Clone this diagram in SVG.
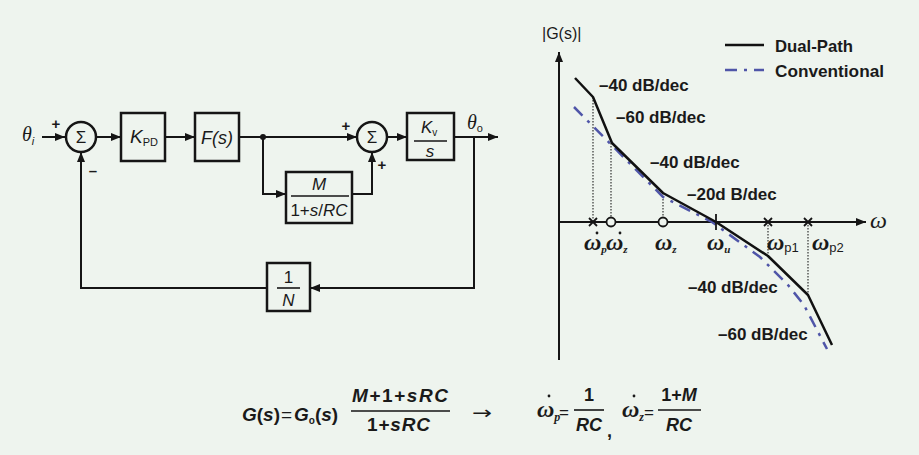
<svg xmlns="http://www.w3.org/2000/svg" width="919" height="455" viewBox="0 0 919 455">
<defs>
<style>
.bg{fill:#eef4ee}
.ln{stroke:#151515;stroke-width:2;fill:none}
.box{fill:none;stroke:#151515;stroke-width:2.5}
.bar{stroke:#151515;stroke-width:1.6}
.t{font-family:"Liberation Sans",Arial,sans-serif;fill:#1a1a1a}
.s{font-family:"Liberation Serif","Times New Roman",serif;fill:#1a1a1a}
.it{font-style:italic}
.b{font-weight:bold}
.vd{stroke:#333;stroke-width:1.2;stroke-dasharray:1.5 1.5;fill:none}
.dual{stroke:#111;stroke-width:2.5;fill:none;stroke-linejoin:round}
.conv{stroke:#4f55a8;stroke-width:2.5;fill:none;stroke-dasharray:12 7 3 7}
.mk{stroke:#151515;stroke-width:1.8;fill:none}
.zc{stroke:#151515;stroke-width:1.8;fill:#eef4ee}
.pd{fill:#1a1a1a}
</style>
<marker id="ah" viewBox="0 0 10 8" refX="10" refY="4" markerWidth="10" markerHeight="8" markerUnits="userSpaceOnUse" orient="auto"><path d="M0,0 L10,4 L0,8 z" fill="#151515"/></marker>
</defs>
<rect class="bg" x="0" y="0" width="919" height="455"/>

<!-- Block diagram nodes -->
<g id="input-label"><text class="s it" x="22" y="141" font-size="20">θ<tspan class="t" font-size="11" dy="4">i</tspan></text></g>
<g id="sum1">
<circle class="box" cx="81" cy="137" r="15"/>
<text class="t" x="81" y="143" font-size="17" text-anchor="middle">Σ</text>
<text class="t b" x="56" y="129" font-size="15" text-anchor="middle">+</text>
<text class="t b" x="93" y="176" font-size="15" text-anchor="middle">–</text>
</g>
<g id="kpd">
<rect class="box" x="121" y="113" width="44" height="48"/>
<text class="t it" x="130" y="143" font-size="19">K<tspan font-style="normal" font-size="11" dy="3">PD</tspan></text>
</g>
<g id="fs">
<rect class="box" x="195" y="113" width="44" height="48"/>
<text class="t it" x="217" y="144" font-size="18" text-anchor="middle">F(s)</text>
</g>
<g id="junction"><circle cx="263" cy="137" r="3" fill="#151515"/></g>
<g id="mblock">
<rect class="box" x="286" y="172" width="66" height="51"/>
<text class="t it" x="319" y="190" font-size="17" text-anchor="middle">M</text>
<line class="bar" x1="291" y1="196" x2="349" y2="196"/>
<text class="t" x="319" y="216" font-size="17" text-anchor="middle">1+<tspan font-style="italic">s</tspan>/<tspan font-style="italic">RC</tspan></text>
</g>
<g id="sum2">
<circle class="box" cx="372" cy="137" r="15"/>
<text class="t" x="372" y="143" font-size="17" text-anchor="middle">Σ</text>
<text class="t b" x="346" y="131" font-size="15" text-anchor="middle">+</text>
<text class="t b" x="382" y="170" font-size="15" text-anchor="middle">+</text>
</g>
<g id="kv">
<rect class="box" x="407" y="113" width="47" height="47"/>
<text class="t it" x="421" y="133" font-size="17">K<tspan font-style="normal" font-size="10" dy="3">v</tspan></text>
<line class="bar" x1="414" y1="141" x2="447" y2="141"/>
<text class="t it" x="430" y="157" font-size="17" text-anchor="middle">s</text>
</g>
<g id="output-label"><text class="s it" x="467" y="129" font-size="20">θ<tspan class="t" font-style="normal" font-size="11" dy="3">o</tspan></text></g>
<g id="ninv">
<rect class="box" x="267" y="263" width="43" height="48"/>
<text class="t" x="288.5" y="283" font-size="17" text-anchor="middle">1</text>
<line class="bar" x1="277" y1="288" x2="300" y2="288"/>
<text class="t it" x="288.5" y="306" font-size="17" text-anchor="middle">N</text>
</g>

<!-- Connectors -->
<g id="connectors">
<line class="ln" x1="42" y1="137" x2="65" y2="137" marker-end="url(#ah)"/>
<line class="ln" x1="96" y1="137" x2="121" y2="137" marker-end="url(#ah)"/>
<line class="ln" x1="165" y1="137" x2="195" y2="137" marker-end="url(#ah)"/>
<line class="ln" x1="239" y1="137" x2="357" y2="137" marker-end="url(#ah)"/>
<polyline class="ln" points="263,137 263,194 286,194" marker-end="url(#ah)"/>
<polyline class="ln" points="352,194 372,194 372,152" marker-end="url(#ah)"/>
<line class="ln" x1="387" y1="137" x2="407" y2="137" marker-end="url(#ah)"/>
<line class="ln" x1="454" y1="137" x2="498" y2="137" marker-end="url(#ah)"/>
<polyline class="ln" points="474,137 474,288 310,288" marker-end="url(#ah)"/>
<polyline class="ln" points="267,288 81,288 81,152" marker-end="url(#ah)"/>
</g>

<!-- Bode plot -->
<g id="bode-axes">
<line class="ln" x1="559" y1="360" x2="559" y2="52" marker-end="url(#ah)"/>
<line class="ln" x1="559" y1="222" x2="866" y2="222" marker-end="url(#ah)"/>
<text class="t" x="542" y="39" font-size="16">|G(s)|</text>
<text class="s it" x="870" y="228" font-size="24">ω</text>
</g>
<g id="legend">
<line class="dual" x1="725" y1="45" x2="764" y2="45"/>
<text class="t b" x="775" y="52" font-size="17" textLength="78" lengthAdjust="spacingAndGlyphs">Dual-Path</text>
<line class="conv" x1="725" y1="70" x2="764" y2="70"/>
<text class="t b" x="775" y="77" font-size="17" textLength="109" lengthAdjust="spacingAndGlyphs">Conventional</text>
</g>
<g id="guides">
<line class="vd" x1="593" y1="97" x2="593" y2="222"/>
<line class="vd" x1="611" y1="143" x2="611" y2="222"/>
<line class="vd" x1="663" y1="193" x2="663" y2="222"/>
<line class="vd" x1="768" y1="222" x2="768" y2="256"/>
<line class="vd" x1="808" y1="222" x2="808" y2="295"/>
</g>
<g id="curve-conventional">
<polyline class="conv" points="574,107 663,197 712,222 760,257 788,285 804,305 817,330 827,349"/>
</g>
<g id="curve-dual">
<polyline class="dual" points="575,78 593,97 612,143 663,193 716,222 768,256 808,295 832,345"/>
</g>
<g id="axis-marks">
<path class="mk" d="M589,218 L597,226 M597,218 L589,226"/>
<circle class="zc" cx="611" cy="222" r="4.5"/>
<circle class="zc" cx="663" cy="222" r="4.5"/>
<line class="mk" x1="716" y1="214" x2="716" y2="230"/>
<path class="mk" d="M764,218 L772,226 M772,218 L764,226"/>
<path class="mk" d="M804,218 L812,226 M812,218 L804,226"/>
</g>
<g id="axis-labels">
<text class="s it b" x="584" y="250" font-size="24">ω<tspan font-size="11" dy="3">p</tspan></text>
<circle class="pd" cx="597" cy="233" r="1.4"/>
<text class="s it b" x="606" y="250" font-size="24">ω<tspan font-size="11" dy="3">z</tspan></text>
<circle class="pd" cx="620" cy="233" r="1.4"/>
<text class="s it b" x="655" y="250" font-size="24">ω<tspan font-size="11" dy="3">z</tspan></text>
<text class="s it b" x="707" y="250" font-size="24">ω<tspan font-size="11" dy="3">u</tspan></text>
<text class="s it b" x="767" y="250" font-size="24">ω<tspan class="t" font-style="normal" font-weight="normal" font-size="13" dy="2">p1</tspan></text>
<text class="s it b" x="812" y="250" font-size="24">ω<tspan class="t" font-style="normal" font-weight="normal" font-size="13" dy="2">p2</tspan></text>
</g>
<g id="slope-labels">
<text class="t b" x="599" y="91" font-size="17">–40 dB/dec</text>
<text class="t b" x="616" y="123" font-size="17">–60 dB/dec</text>
<text class="t b" x="650" y="168" font-size="17">–40 dB/dec</text>
<text class="t b" x="687" y="200" font-size="17">–20d B/dec</text>
<text class="t b" x="688" y="293" font-size="17">–40 dB/dec</text>
<text class="t b" x="718" y="340" font-size="17">–60 dB/dec</text>
</g>

<!-- Equation -->
<g id="equation">
<text class="t b" x="242" y="421" font-size="19"><tspan font-style="italic">G</tspan>(<tspan font-style="italic">s</tspan>)</text>
<text class="t" x="281" y="421" font-size="19">=</text>
<text class="t b" x="294" y="421" font-size="19"><tspan font-style="italic">G</tspan><tspan font-size="10" dy="3">o</tspan><tspan dy="-3">(</tspan><tspan font-style="italic">s</tspan>)</text>
<text class="t b" x="352" y="402" font-size="19" textLength="96" lengthAdjust="spacing"><tspan font-style="italic">M</tspan>+1+<tspan font-style="italic">sRC</tspan></text>
<line class="bar" x1="351" y1="411" x2="450" y2="411"/>
<text class="t b" x="367" y="431" font-size="19" textLength="63" lengthAdjust="spacing">1+<tspan font-style="italic">sRC</tspan></text>
<text x="472" y="419" font-size="18" font-family="'DejaVu Sans',sans-serif" fill="#1a1a1a" textLength="20" lengthAdjust="spacingAndGlyphs">→</text>
<text class="s it b" x="537" y="417" font-size="24">ω<tspan font-size="12" dy="4">p</tspan></text>
<circle class="pd" cx="549" cy="396" r="1.4"/>
<text class="t" x="559" y="418" font-size="17">=</text>
<text class="t b" x="589" y="401" font-size="18" text-anchor="middle">1</text>
<line class="bar" x1="574" y1="410" x2="604" y2="410"/>
<text class="t b it" x="589" y="431" font-size="18" text-anchor="middle">RC</text>
<text class="t b" x="607" y="437" font-size="18">,</text>
<text class="s it b" x="622" y="417" font-size="24">ω<tspan font-size="12" dy="4">z</tspan></text>
<circle class="pd" cx="634" cy="396" r="1.4"/>
<text class="t" x="644" y="418" font-size="17">=</text>
<text class="t b" x="679" y="401" font-size="18" text-anchor="middle">1+<tspan font-style="italic">M</tspan></text>
<line class="bar" x1="658" y1="410" x2="701" y2="410"/>
<text class="t b it" x="679" y="431" font-size="18" text-anchor="middle">RC</text>
</g>
</svg>
